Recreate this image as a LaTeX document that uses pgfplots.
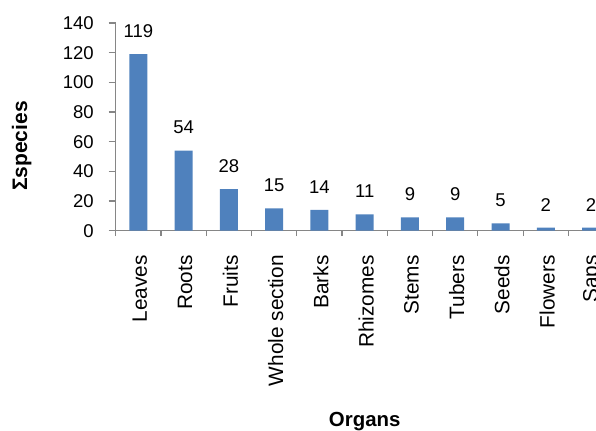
\documentclass[border=0pt]{standalone}
\usepackage{pgfplots}
\pgfplotsset{compat=1.18}
\usepackage{fontspec}
\setmainfont{Liberation Sans}
\definecolor{barblue}{HTML}{4F81BD}
\definecolor{axgray}{HTML}{868686}
\begin{document}
\begin{tikzpicture}
\begin{axis}[
  at={(57.85pt,-115.35pt)}, anchor=south west,
  scale only axis, width=249pt, height=103.85pt,
  ybar, bar width=9pt,
  xmin=-0.5, xmax=10.5, ymin=0, ymax=140,
  axis lines*=left,
  axis line style={axgray, line width=0.6pt},
  xtick={0,...,10},
  xticklabels={Leaves,Roots,Fruits,Whole section,Barks,Rhizomes,Stems,Tubers,Seeds,Flowers,Saps},
  major x tick style={draw=none},
  minor xtick={-0.5,0.5,...,10.5},
  minor x tick style={axgray, line width=0.6pt},
  ytick={0,20,...,140},
  major y tick style={axgray, line width=0.6pt},
  tick align=outside,
  major tick length=3.5pt, minor tick length=2.7pt,
  /pgf/number format/assume math mode=true,
  yticklabel style={font=\fontsize{9.25}{11}\selectfont, anchor=east, xshift=-4pt},
  xticklabel style={font=\fontsize{10.4}{12}\selectfont, rotate=90, anchor=east, xshift=-5.3pt, yshift=-0.75pt},
  ylabel={\textbf{Σspecies}},
  ylabel style={font=\fontsize{10.5}{12}\selectfont, at={(axis description cs:-0.178,0.408)}, anchor=base, rotate=0},
  xlabel={\textbf{Organs}},
  xlabel style={font=\fontsize{10.2}{12}\selectfont, at={(axis description cs:0.5,-0.945)}, anchor=base},
  nodes near coords,
  every node near coord/.append style={font=\fontsize{9.25}{11}\selectfont, anchor=south, yshift=4.8pt},
]
\addplot[fill=barblue, draw=none] coordinates {
  (0,119) (1,54) (2,28) (3,15) (4,14) (5,11) (6,9) (7,9) (8,5) (9,2) (10,2)
};
\end{axis}
\pgfresetboundingbox
\path (0,0) rectangle (298pt,-215pt);
\end{tikzpicture}
\end{document}
